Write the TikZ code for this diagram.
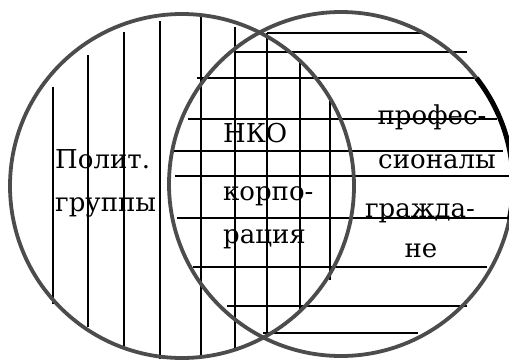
\documentclass[tikz,border=0pt]{standalone}
\usepackage{fontspec}
\setmainfont{DejaVu Serif}
\newfontfamily\vennfont{DejaVu Serif}
\usepackage{tikz}
\usetikzlibrary{positioning}

\begin{document}
\begin{tikzpicture}[
    x=1pt, y=-1pt,
    hatch/.style={line width=1.1pt},
    ring/.style={draw=black!70, line width=3.8pt},
    lbl/.style={font=\vennfont\fontsize{26}{26}\selectfont, inner sep=0pt, anchor=base west},
    lblc/.style={lbl, anchor=base}
]
\useasboundingbox (0,0) rectangle (509,359);

% Vertical hatching (left circle)
\foreach \x/\top/\bot in {53/87/304, 88/55/327, 124/32/346, 160/21/359, 201/17/359,
                          235/27/351, 267/33/333, 300/63/313, 330/97/280}
  \draw[hatch] (\x,\top) -- (\x,\bot);

% Horizontal hatching (right circle)
\foreach \y/\lft/\rgt in {33/267/425, 52/235/467, 119/188/497, 151/173/503, 176/175/509,
                          218/177/507, 267/193/487, 306/227/467, 333/263/418}
  \draw[hatch] (\lft,\y) -- (\rgt,\y);
\draw[line width=2.6pt] (197,78) -- (477,78);

% Circles
\draw[ring] (182,186) circle[radius=172];
\draw[ring] (341,184) circle[radius=172];
\draw[line width=5pt] (341,184) ++(-38:172) arc[start angle=-38, end angle=12, radius=172];

% Labels
\node[lbl] (polit) at (55,168) {Полит.};
\node[lbl] (gruppy) at (55,211) {группы};
\node[lbl] (nko) at (223,142) {НКО};
\node[lbl] (korpo) at (223,200) {корпо-};
\node[lbl] (ratsiya) at (223,243) {рация};
\node[lblc] (profes) at (432,124) {профес-};
\node[lblc] (sionaly) at (437,168) {сионалы};
\node[lblc] (grazhda) at (420,217) {гражда-};
\node[lblc] (ne) at (421,257) {не};
\end{tikzpicture}
\end{document}
